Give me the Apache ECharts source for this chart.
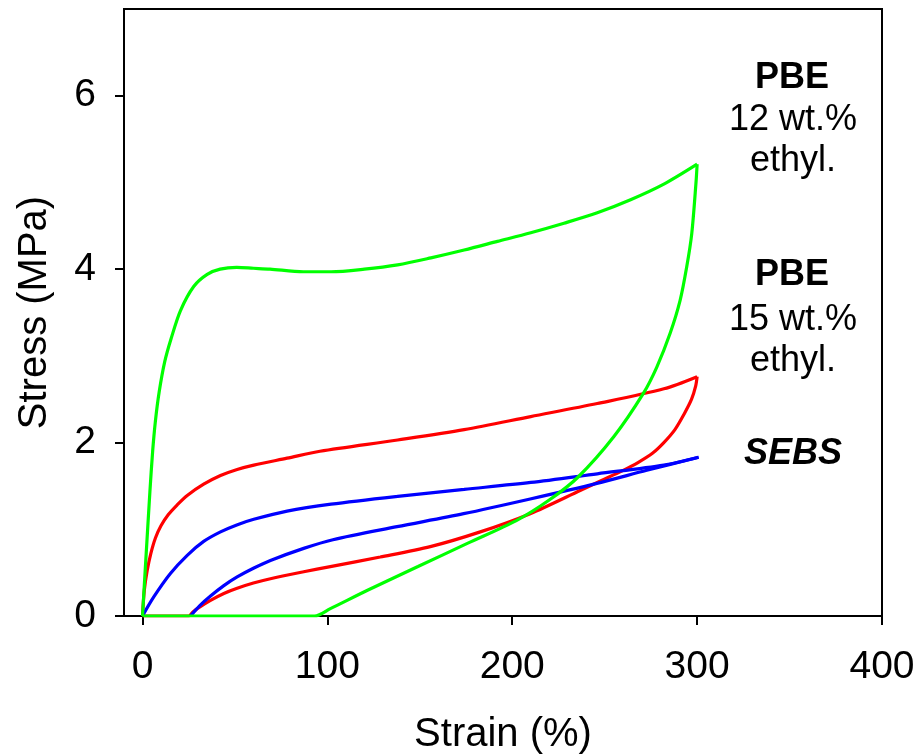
<!DOCTYPE html>
<html>
<head>
<meta charset="utf-8">
<script src="https://cdn.jsdelivr.net/npm/echarts@6/dist/echarts.min.js"></script>
<style>
  html, body { margin: 0; padding: 0; background: #fff; }
  #chart { width: 916px; height: 755px; }
</style>
</head>
<body>
<div id="chart"></div>
<script>
// tick values
const xTicks = [0, 100, 200, 300, 400]
const yTicks = [0, 2, 4, 6]

// [strain %, stress MPa]
// PBE 12 wt.% ethyl. (green)
const pbe12Load = [
  [0, 0], [2, 0.72], [4, 1.43], [5.5, 1.9], [7, 2.25], [9, 2.58], [12, 2.93], [15.5, 3.2],
  [20.5, 3.52], [27.7, 3.8], [35, 3.94], [42, 4.0], [51, 4.02], [60, 4.01], [69, 4.0],
  [87, 3.97], [102, 3.97], [120, 4.0], [138, 4.05], [156, 4.13], [174, 4.22], [192, 4.32],
  [210, 4.42], [228, 4.53], [246, 4.65], [264, 4.8], [282, 4.98], [300, 5.21]
]
const pbe12Unload = [
  [300, 5.21], [299.4, 5.0], [297.1, 4.41], [294.4, 4.03], [290.8, 3.64], [285.4, 3.26],
  [278.2, 2.87], [271, 2.57], [255, 2.07], [235.5, 1.6], [220.2, 1.34], [202.2, 1.1],
  [176, 0.84], [149, 0.57], [122, 0.3], [101.6, 0.085], [93, 0], [0, 0]
]
// PBE 15 wt.% ethyl. (red)
const pbe15Load = [
  [0, 0], [1, 0.3], [2.5, 0.52], [4.5, 0.72], [7, 0.9], [10, 1.04], [14, 1.17], [18.7, 1.28],
  [24.2, 1.39], [33.1, 1.52], [42.2, 1.62], [51.2, 1.69], [60.2, 1.74], [78.2, 1.82], [96, 1.9],
  [138, 2.03], [174, 2.15], [210, 2.3], [246, 2.45], [282, 2.62], [300, 2.76]
]
const pbe15Unload = [
  [300, 2.76], [299.2, 2.65], [297, 2.5], [293, 2.33], [288, 2.15], [282, 2.0], [276, 1.88],
  [268, 1.77], [260, 1.68], [248, 1.56], [237, 1.45], [209.7, 1.18], [182.7, 0.97],
  [155.7, 0.8], [128.6, 0.68], [101.6, 0.57], [87.2, 0.51], [69.2, 0.43], [60, 0.38],
  [51.2, 0.32], [44, 0.26], [36.8, 0.18], [30, 0.09], [27, 0.04], [25, 0], [0, 0]
]
// SEBS (blue)
const sebsLoad = [
  [0, 0], [6.1, 0.22], [15.1, 0.49], [24.2, 0.7], [33.1, 0.86], [42.2, 0.97], [51, 1.05],
  [60.2, 1.115], [78.2, 1.21], [102, 1.29], [138, 1.38], [174, 1.46], [210, 1.54], [246, 1.64],
  [282, 1.74], [300.8, 1.83]
]
const sebsUnload = [
  [300.8, 1.83], [272.8, 1.68], [245.8, 1.53], [209.7, 1.35], [173.7, 1.18], [137.7, 1.03],
  [103, 0.88], [87.2, 0.78], [69.2, 0.64], [60, 0.55], [51.2, 0.45], [44, 0.35], [36.8, 0.23],
  [31, 0.12], [28, 0.05], [26, 0]
]

const font = "'Liberation Sans', Arial, Helvetica, sans-serif"
const chart = echarts.init(document.getElementById('chart'))

function line(name, data, color) {
  return {
    name: name,
    type: 'line',
    data: data,
    showSymbol: false,
    smooth: 0.3,
    lineStyle: { color: color, width: 3.2 },
    itemStyle: { color: color }
  }
}

function note(text, x, y, weight, style) {
  return {
    type: 'text',
    x: x,
    y: y,
    style: {
      text: text,
      fill: '#000',
      font: (style || 'normal') + ' ' + (weight || 'normal') + ' 36px ' + font,
      textAlign: 'center',
      textVerticalAlign: 'middle'
    }
  }
}

chart.setOption({
  animation: false,
  textStyle: { fontFamily: font },
  grid: {
    left: 124, right: 34, top: 9, bottom: 139,
    outerBoundsMode: 'none',
    show: true, borderColor: '#000', borderWidth: 2
  },
  xAxis: {
    type: 'value',
    min: -10,
    max: 400,
    name: 'Strain (%)',
    nameLocation: 'middle',
    nameGap: 99,
    nameTextStyle: { fontSize: 40, color: '#000', fontFamily: font },
    axisLine: { show: true, onZero: false, lineStyle: { color: '#000', width: 2 } },
    axisTick: { show: true, length: 9, customValues: xTicks, lineStyle: { color: '#000', width: 2 } },
    axisLabel: { customValues: xTicks, fontSize: 39, color: '#000', margin: 32, fontFamily: font },
    splitLine: { show: false }
  },
  yAxis: {
    type: 'value',
    min: 0,
    max: 7,
    name: 'Stress (MPa)',
    nameLocation: 'middle',
    nameGap: 69,
    nameTextStyle: { fontSize: 40, color: '#000', fontFamily: font },
    axisLine: { show: true, onZero: false, lineStyle: { color: '#000', width: 2 } },
    axisTick: { show: true, length: 9, customValues: yTicks, lineStyle: { color: '#000', width: 2 } },
    axisLabel: { customValues: yTicks, fontSize: 39, color: '#000', margin: 28, fontFamily: font },
    splitLine: { show: false }
  },
  series: [
    line('PBE 15 wt.% ethyl.', pbe15Load, '#ff0000'),
    line('PBE 15 wt.% ethyl.', pbe15Unload, '#ff0000'),
    line('SEBS', sebsLoad, '#0000ff'),
    line('SEBS', sebsUnload, '#0000ff'),
    line('PBE 12 wt.% ethyl.', pbe12Load, '#00ff00'),
    line('PBE 12 wt.% ethyl.', pbe12Unload, '#00ff00')
  ],
  graphic: [
    note('PBE', 792, 78, 'bold'),
    note('12 wt.%', 793, 120),
    note('ethyl.', 793, 161),
    note('PBE', 792, 275, 'bold'),
    note('15 wt.%', 793, 320),
    note('ethyl.', 793, 361),
    note('SEBS', 793, 454, 'bold', 'italic')
  ]
})
</script>
</body>
</html>
